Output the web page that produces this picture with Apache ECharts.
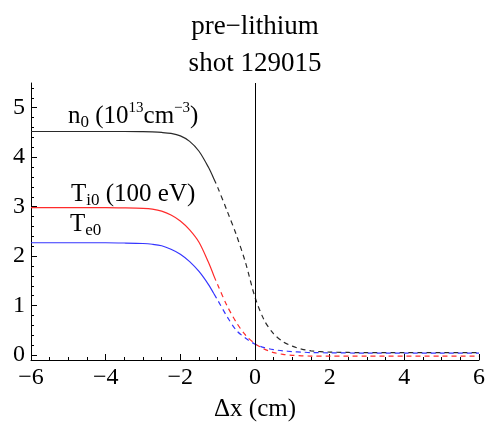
<!DOCTYPE html>
<html>
<head>
<meta charset="utf-8">
<script src="https://cdn.jsdelivr.net/npm/echarts@6/dist/echarts.min.js"></script>
<style>html,body{margin:0;padding:0;background:#fff;}#c{width:487px;height:426px;}</style>
</head>
<body>
<div id="c"></div>
<script>
// ---- data ----
var xSolid = [-6, -5, -4, -3.5, -3, -2.75, -2.5, -2.25, -2, -1.75, -1.5, -1.25, -1.1];
var nSolid = [4.52, 4.52, 4.52, 4.52, 4.515, 4.51, 4.50, 4.48, 4.43, 4.32, 4.12, 3.80, 3.56];
var tiSolid = [2.98, 2.98, 2.98, 2.975, 2.965, 2.95, 2.91, 2.83, 2.71, 2.53, 2.28, 1.88, 1.60];
var teSolid = [2.27, 2.27, 2.27, 2.265, 2.255, 2.24, 2.21, 2.14, 2.04, 1.89, 1.69, 1.43, 1.24];

var xDash = [-1.1, -1.0, -0.75, -0.5, -0.25, 0, 0.25, 0.5, 0.75, 1.0, 1.25, 1.5, 2, 3, 4, 5, 6];
var nDash = [3.56, 3.39, 2.92, 2.43, 1.86, 1.17, 0.70, 0.43, 0.27, 0.18, 0.12, 0.085, 0.06, 0.05, 0.05, 0.05, 0.05];
var tiDash = [1.60, 1.42, 1.00, 0.66, 0.40, 0.23, 0.12, 0.05, 0.015, -0.005, -0.015, -0.02, -0.02, -0.02, -0.02, -0.02, -0.02];
var teDash = [1.24, 1.11, 0.78, 0.50, 0.34, 0.22, 0.15, 0.11, 0.085, 0.07, 0.06, 0.05, 0.045, 0.04, 0.04, 0.04, 0.04];

var xTicks = [-6, -4, -2, 0, 2, 4, 6];
var yTicks = [0, 1, 2, 3, 4, 5];
var yMinor = [0.2, 0.4, 0.6, 0.8, 1.2, 1.4, 1.6, 1.8, 2.2, 2.4, 2.6, 2.8, 3.2, 3.4, 3.6, 3.8, 4.2, 4.4, 4.6, 4.8, 5.2, 5.4];

var titleLines = ['pre\u2212lithium', 'shot 129015'];
var xName = '\u0394x (cm)';

// ---- chart ----
var FF = '"Liberation Serif", "Times New Roman", serif';
function pairs(xs, ys) { return xs.map(function (x, i) { return [x, ys[i]]; }); }
function minus(v) { return v < 0 ? '\u2212' + (-v) : String(v); }

var BLACK = '#2a2a2a', RED = '#ff2b2b', BLUE = '#3535ff';
function line(data, color, dashed, extra) {
  var s = {
    type: 'line', data: data, showSymbol: false, smooth: 0.3,
    lineStyle: { color: color, width: 1.2, type: dashed ? [5, 4] : 'solid' },
    silent: true, z: 3
  };
  if (extra) for (var k in extra) s[k] = extra[k];
  return s;
}

var chart = echarts.init(document.getElementById('c'));
chart.setOption({
  animation: false,
  backgroundColor: '#fff',
  grid: { left: 31, right: 8, top: 83, bottom: 66, containLabel: false, outerBoundsMode: 'none' },
  xAxis: {
    type: 'value', min: -6, max: 6, interval: 2,
    name: xName, nameLocation: 'middle', nameGap: 37,
    nameTextStyle: { fontFamily: FF, fontSize: 25, color: '#000' },
    axisLine: { show: true, onZero: false, lineStyle: { color: '#000', width: 1 } },
    axisTick: { show: true, inside: true, length: 6, lineStyle: { color: '#000' } },
    minorTick: { show: true, splitNumber: 4, length: 3, lineStyle: { color: '#000' } },
    axisLabel: { fontFamily: FF, fontSize: 24, color: '#000', margin: 6, formatter: minus, customValues: xTicks },
    splitLine: { show: false }
  },
  yAxis: [{
    type: 'value', min: -0.1, max: 5.5,
    axisLine: { show: true, onZero: false, lineStyle: { color: '#000', width: 1 } },
    axisTick: { show: true, inside: true, length: 6, customValues: yTicks, lineStyle: { color: '#000' } },
    axisLabel: { fontFamily: FF, fontSize: 24, color: '#000', margin: 6, customValues: yTicks, formatter: minus },
    splitLine: { show: false }
  }, {
    type: 'value', min: -0.1, max: 5.5, position: 'left', offset: 0,
    axisLine: { show: false, onZero: false },
    axisTick: { show: true, inside: true, length: 3, customValues: yMinor, lineStyle: { color: '#000' } },
    axisLabel: { show: false },
    splitLine: { show: false }
  }],
  series: [
    line(pairs(xSolid, nSolid), BLACK, false, {
      markLine: {
        silent: true, symbol: 'none', label: { show: false },
        lineStyle: { color: '#000', width: 1, type: 'solid' },
        data: [{ xAxis: 0 }]
      }
    }),
    line(pairs(xDash, nDash), BLACK, true),
    line(pairs(xSolid, tiSolid), RED, false),
    line(pairs(xDash, tiDash), RED, true),
    line(pairs(xSolid, teSolid), BLUE, false),
    line(pairs(xDash, teDash), BLUE, true)
  ],
  graphic: [
    { type: 'text', x: 255, y: 27, style: { text: titleLines[0], fontFamily: FF, fontSize: 27, fill: '#000', textAlign: 'center', textVerticalAlign: 'middle' } },
    { type: 'text', x: 255, y: 64, style: { text: titleLines[1], fontFamily: FF, fontSize: 27, fill: '#000', textAlign: 'center', textVerticalAlign: 'middle' } },
    { type: 'text', x: 68, y: 116, z: 10, style: {
        text: '{a|n}{b|0}{a| (10}{c|13}{a|cm}{c|\u22123}{a|)}',
        textVerticalAlign: 'middle', fill: '#000',
        rich: {
          a: { fontFamily: FF, fontSize: 25, lineHeight: 30, verticalAlign: 'middle', fill: '#000' },
          b: { fontFamily: FF, fontSize: 17, lineHeight: 17, verticalAlign: 'bottom', fill: '#000' },
          c: { fontFamily: FF, fontSize: 15, lineHeight: 15, verticalAlign: 'top', fill: '#000' }
        } } },
    { type: 'text', x: 71, y: 194, z: 10, style: {
        text: '{a|T}{b|i0}{a| (100 eV)}',
        textVerticalAlign: 'middle', fill: '#000',
        rich: {
          a: { fontFamily: FF, fontSize: 25, lineHeight: 30, verticalAlign: 'middle', fill: '#000' },
          b: { fontFamily: FF, fontSize: 17, lineHeight: 17, verticalAlign: 'bottom', fill: '#000' }
        } } },
    { type: 'text', x: 70, y: 224, z: 10, style: {
        text: '{a|T}{b|e0}',
        textVerticalAlign: 'middle', fill: '#000',
        rich: {
          a: { fontFamily: FF, fontSize: 25, lineHeight: 30, verticalAlign: 'middle', fill: '#000' },
          b: { fontFamily: FF, fontSize: 17, lineHeight: 17, verticalAlign: 'bottom', fill: '#000' }
        } } }
  ]
});
</script>
</body>
</html>
